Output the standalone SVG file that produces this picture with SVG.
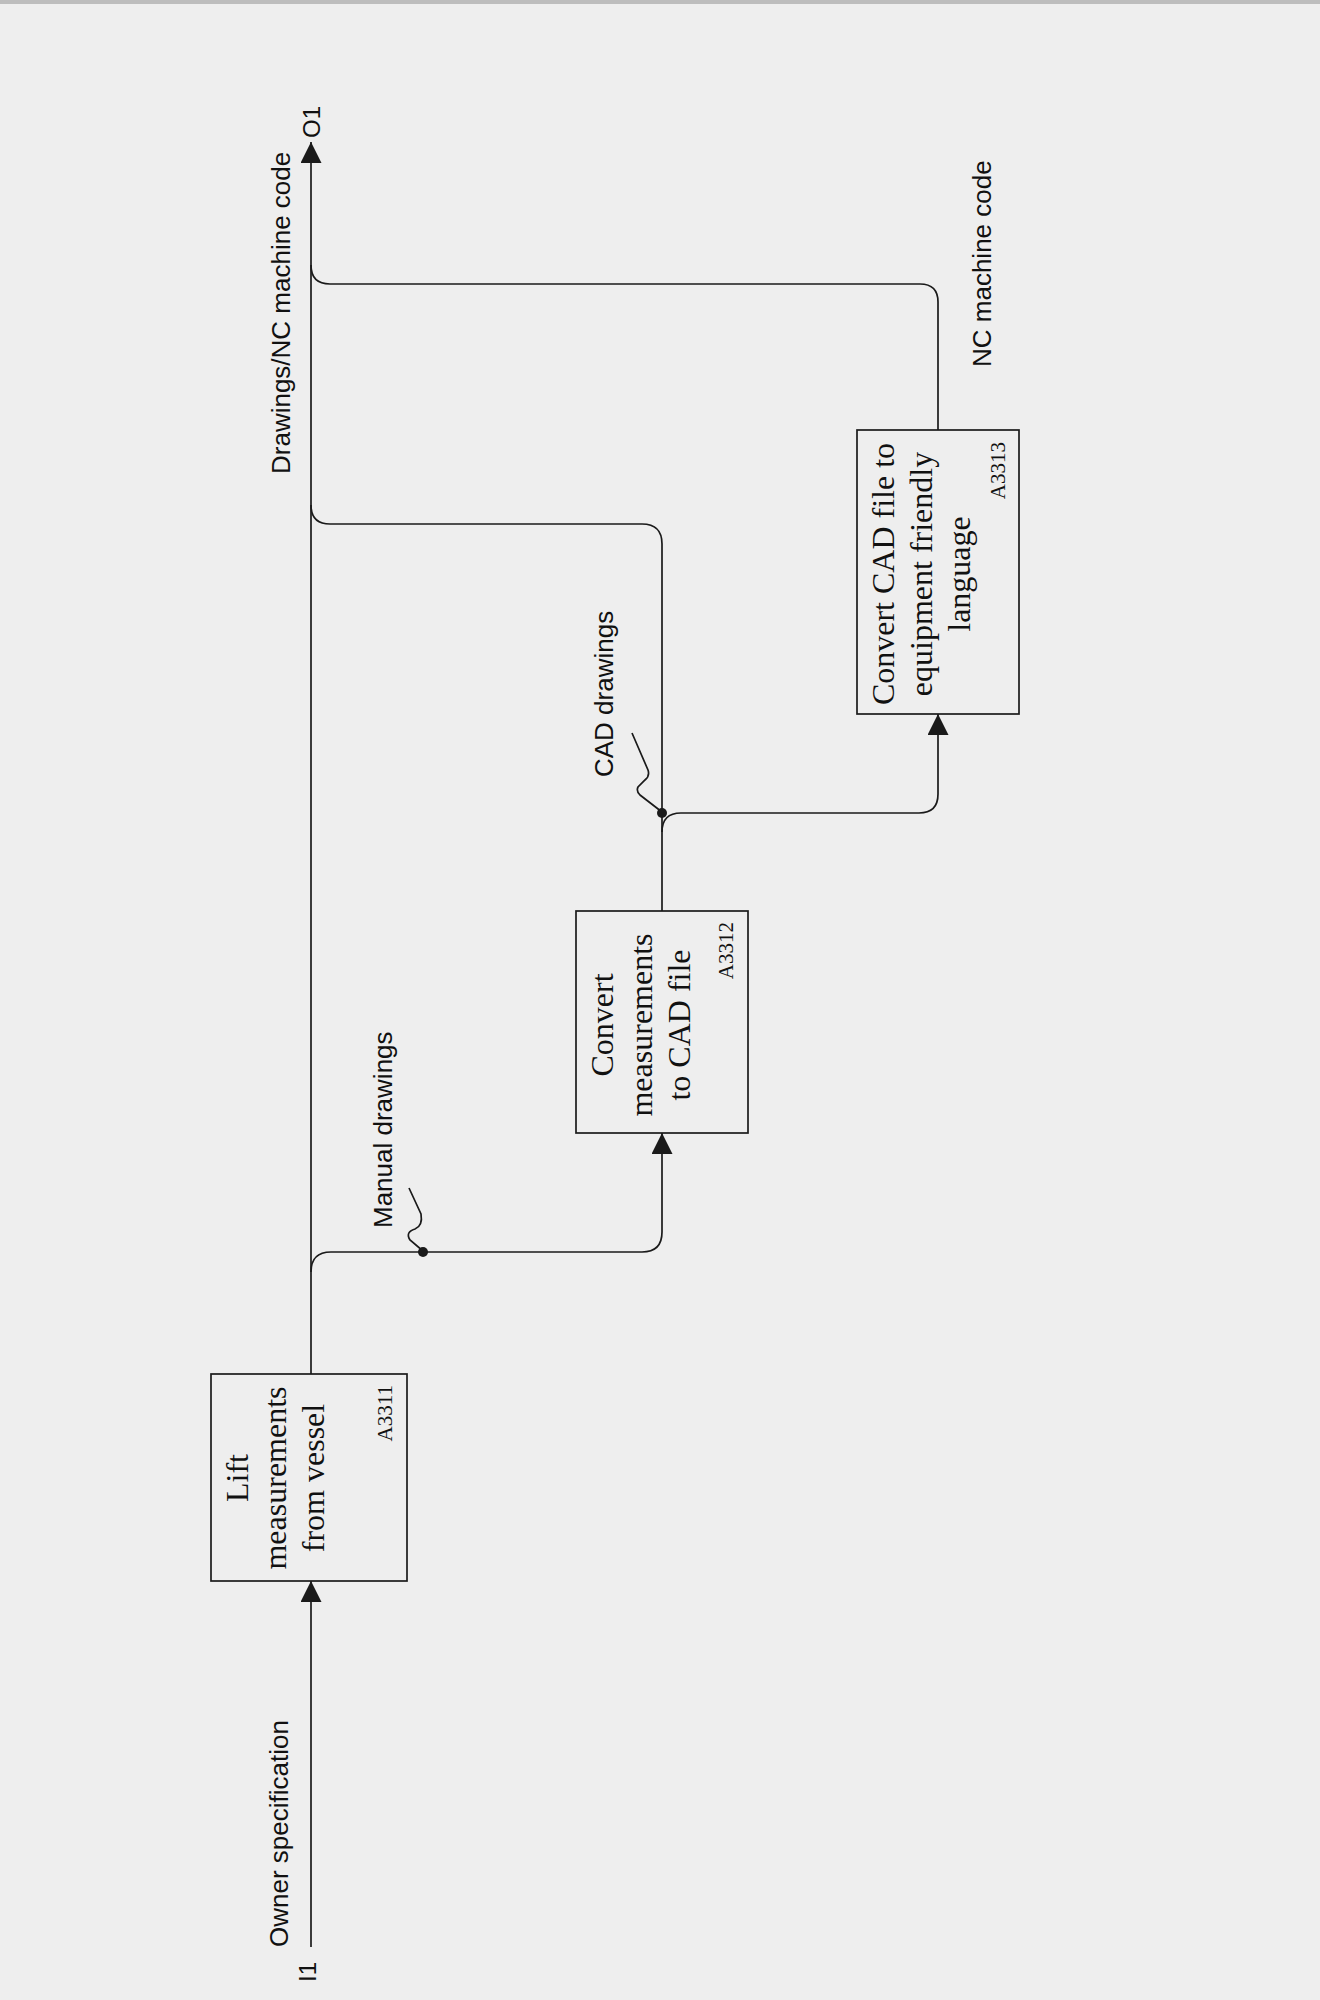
<svg xmlns="http://www.w3.org/2000/svg" width="1320" height="2000" viewBox="0 0 1320 2000">
<style>
.box{fill:none;stroke:#1a1a1a;stroke-width:1.7}
.con{fill:none;stroke:#1a1a1a;stroke-width:1.7}
.bt{font-family:"Liberation Serif","Times New Roman",serif;font-size:32px;fill:#111;text-anchor:middle}
.id{font-family:"Liberation Serif","Times New Roman",serif;font-size:21px;fill:#111;text-anchor:end}
.lb{font-family:"Liberation Sans",Arial,sans-serif;font-size:26px;fill:#111}
</style>
<defs>
<marker id="arr" markerUnits="userSpaceOnUse" markerWidth="21" markerHeight="21" viewBox="0 0 21 21" refX="21" refY="10.5" orient="auto">
<path d="M0,0 L21,10.5 L0,21 Z" fill="#1a1a1a"/>
</marker>
</defs>
<rect width="1320" height="2000" fill="#eeeeee"/>
<rect width="1320" height="4" fill="#bdbdbd"/>

<g id="connectors">
<path class="con" d="M311,1947 V1581" marker-end="url(#arr)"/>
<path class="con" d="M311,1374 V142" marker-end="url(#arr)"/>
<path class="con" d="M311,1272 Q311,1252 331,1252 H642 Q662,1252 662,1232 V1133" marker-end="url(#arr)"/>
<path class="con" d="M662,911 V544 Q662,524 642,524 H330 Q311,524 311,505"/>
<path class="con" d="M662,832 Q662,813 681,813 H919 Q938,813 938,794 V714" marker-end="url(#arr)"/>
<path class="con" d="M938,430 V302 Q938,284 920,284 H330 Q311,284 311,265"/>
<path class="con" d="M409,1188 L421,1214 Q423,1226 415,1229 Q405,1232 410,1240 L423,1251"/>
<circle cx="423" cy="1252" r="5" fill="#1a1a1a"/>
<path class="con" d="M632,733 L648,770 Q650,776 645,780 L638,787 Q636,791 640,795 L662,812"/>
<circle cx="662" cy="813" r="5" fill="#1a1a1a"/>
</g>

<g id="A3311">
<rect class="box" x="211" y="1374" width="196" height="207"/>
<text class="bt" transform="translate(248,1478) rotate(-90)">Lift</text>
<text class="bt" transform="translate(286,1478) rotate(-90)">measurements</text>
<text class="bt" transform="translate(324,1478) rotate(-90)">from vessel</text>
<text class="id" transform="translate(392,1385) rotate(-90)">A3311</text>
</g>

<g id="A3312">
<rect class="box" x="576" y="911" width="172" height="222"/>
<text class="bt" transform="translate(613,1025) rotate(-90)">Convert</text>
<text class="bt" transform="translate(652,1025) rotate(-90)">measurements</text>
<text class="bt" transform="translate(690,1025) rotate(-90)">to CAD file</text>
<text class="id" transform="translate(733,922) rotate(-90)">A3312</text>
</g>

<g id="A3313">
<rect class="box" x="857" y="430" width="162" height="284"/>
<text class="bt" transform="translate(894,574) rotate(-90)">Convert CAD file to</text>
<text class="bt" transform="translate(932,574) rotate(-90)">equipment friendly</text>
<text class="bt" transform="translate(970,574) rotate(-90)">language</text>
<text class="id" transform="translate(1005,442) rotate(-90)">A3313</text>
</g>

<g id="labels">
<text class="lb" transform="translate(316,1982) rotate(-90)" style="font-size:24px">I1</text>
<text class="lb" transform="translate(288,1947) rotate(-90)">Owner specification</text>
<text class="lb" transform="translate(290,474) rotate(-90)">Drawings/NC machine code</text>
<text class="lb" transform="translate(320,122) rotate(-90)" style="font-size:24px;text-anchor:middle">O1</text>
<text class="lb" transform="translate(392,1228) rotate(-90)">Manual drawings</text>
<text class="lb" transform="translate(613,777) rotate(-90)">CAD drawings</text>
<text class="lb" transform="translate(991,367) rotate(-90)">NC machine code</text>
</g>
</svg>
